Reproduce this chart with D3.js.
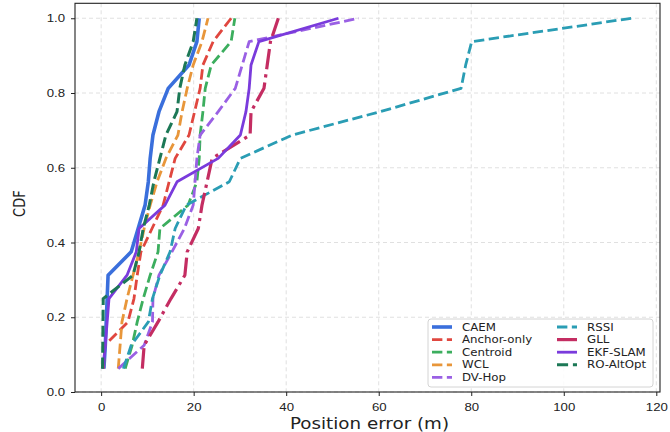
<!DOCTYPE html>
<html>
<head>
<meta charset="utf-8">
<script src="https://cdn.jsdelivr.net/npm/d3@7"></script>
<style>
  html, body { margin: 0; padding: 0; background: #fff; }
  svg { display: block; font-family: "DejaVu Sans", sans-serif; }
</style>
</head>
<body>
<svg id="chart" width="670" height="432"></svg>
<script>
// Empirical CDF of position error for each localisation method (16 trials each)
const methods = ["CAEM", "Anchor-only", "Centroid", "WCL", "DV-Hop", "RSSI", "GLL", "EKF-SLAM", "RO-AltOpt"];

const caem       = [0.6, 0.9, 1.1, 1.3, 1.5, 6.5, 8.0, 9.5, 10.2, 10.6, 11.2, 12.5, 14.5, 19.0, 20.7, 21.2];
const anchorOnly = [0.5, 0.8, 5.8, 7.1, 7.8, 8.6, 11.0, 13.4, 14.7, 16.0, 19.0, 20.2, 21.4, 22.0, 24.2, 28.1];
const centroid   = [5.2, 6.7, 7.8, 9.1, 10.6, 12.3, 12.7, 18.8, 20.7, 21.2, 21.4, 22.0, 22.5, 23.8, 28.1, 28.9];
const wcl        = [3.7, 4.1, 4.5, 5.6, 6.9, 8.2, 9.3, 10.6, 12.1, 14.0, 16.6, 17.5, 18.6, 19.9, 21.8, 23.1];
const dvHop      = [3.7, 9.3, 11.1, 11.2, 12.5, 15.3, 18.0, 19.9, 20.3, 20.7, 21.4, 25.3, 29.0, 30.5, 32.0, 55.7];
const rssi       = [4.8, 6.5, 10.2, 11.1, 12.7, 14.9, 16.0, 18.4, 27.7, 30.1, 41.3, 60.3, 77.8, 78.8, 80.1, 114.7];
const gll        = [8.9, 9.3, 12.3, 15.1, 18.1, 18.6, 21.0, 21.8, 22.9, 24.0, 32.2, 32.4, 35.2, 35.9, 36.6, 38.3];
const ekfSlam    = [0.4, 0.9, 1.3, 1.7, 5.6, 7.6, 8.2, 13.8, 16.4, 25.3, 30.1, 31.3, 32.0, 32.4, 34.1, 51.3];
const roAltOpt   = [0.3, 0.35, 0.4, 0.45, 6.9, 8.2, 9.1, 10.4, 11.4, 12.7, 14.0, 16.4, 17.0, 18.1, 19.9, 20.7];

const xTicks = [0, 20, 40, 60, 80, 100, 120];
const yTicks = [0.0, 0.2, 0.4, 0.6, 0.8, 1.0];

const seriesValues = [caem, anchorOnly, centroid, wcl, dvHop, rssi, gll, ekfSlam, roAltOpt];
const colors = ["#3a6fdc", "#e0473f", "#3cae5e", "#e8963a", "#9a60e4", "#2a9db4", "#c42d62", "#7a3bdc", "#1c7856"];
const styles = ["solid", "dash", "dash", "dash", "dash", "dash", "dashdot", "solid", "dash"];
const widths = [3.6, 2.8, 2.8, 2.8, 2.8, 2.8, 3.2, 2.8, 3.0];

const dashFor = (s, w) => s === "dash" ? `${3.7 * w},${1.6 * w}`
  : s === "dashdot" ? `${6.4 * w},${1.6 * w},${1.0 * w},${1.6 * w}` : null;

const svg = d3.select("#chart");
const X0 = 75, X1 = 660, Y0 = 392, Y1 = 3.3;
const x = d3.scaleLinear().domain([-5.65, 120.8]).range([X0, X1]);
const y = d3.scaleLinear().domain([0, 1.04]).range([Y0, Y1]);
const SX = 1.18; // glyphs are drawn slightly wide

// grid
const grid = svg.append("g");
grid.selectAll("line.gx").data(xTicks).join("line")
  .attr("x1", d => x(d)).attr("x2", d => x(d)).attr("y1", Y1).attr("y2", Y0)
  .attr("stroke", "#dcdcdc").attr("stroke-width", 0.9).attr("stroke-dasharray", "4,3");
grid.selectAll("line.gy").data(yTicks).join("line")
  .attr("x1", X0).attr("x2", X1).attr("y1", d => y(d)).attr("y2", d => y(d))
  .attr("stroke", "#dcdcdc").attr("stroke-width", 0.9).attr("stroke-dasharray", "4,3");

// CDF curves
const line = d3.line().x(d => x(d[0])).y(d => y(d[1]));
svg.append("clipPath").attr("id", "plotClip").append("rect")
  .attr("x", X0).attr("y", Y1).attr("width", X1 - X0).attr("height", Y0 - Y1);
const plot = svg.append("g").attr("clip-path", "url(#plotClip)");
seriesValues.forEach((vals, i) => {
  const n = vals.length;
  const pts = vals.map((v, k) => [v, (k + 1) / n]);
  plot.append("path").datum(pts)
    .attr("d", line)
    .attr("fill", "none")
    .attr("stroke", colors[i])
    .attr("stroke-width", widths[i])
    .attr("stroke-linejoin", "round")
    .attr("stroke-dasharray", dashFor(styles[i], widths[i]));
});

// axes
const xAxis = svg.append("g").attr("transform", `translate(0,${Y0})`)
  .call(d3.axisBottom(x).tickValues(xTicks).tickFormat(d3.format("d")).tickSize(4).tickSizeOuter(0));
const yAxis = svg.append("g").attr("transform", `translate(${X0},0)`)
  .call(d3.axisLeft(y).tickValues(yTicks).tickFormat(d3.format(".1f")).tickSize(4).tickSizeOuter(0));
[xAxis, yAxis].forEach(a => {
  a.select(".domain").remove();
  a.selectAll(".tick line").attr("stroke", "#222").attr("stroke-width", 1);
  a.selectAll(".tick text").attr("fill", "#222").attr("font-size", 11.2);
});
xAxis.selectAll(".tick text").attr("y", 11).attr("transform", `scale(${SX},1)`);
yAxis.selectAll(".tick text").attr("x", -10 / SX).attr("transform", `scale(${SX},1)`);

// frame
svg.append("rect").attr("x", X0).attr("y", Y1).attr("width", X1 - X0).attr("height", Y0 - Y1)
  .attr("fill", "none").attr("stroke", "#222").attr("stroke-width", 1.1);

// axis titles
svg.append("text")
  .attr("transform", `translate(${(X0 + X1) / 2 + 2},429) scale(${SX},1)`)
  .attr("text-anchor", "middle").attr("font-size", 15.5).attr("fill", "#222")
  .text("Position error (m)");
svg.append("text")
  .attr("transform", `translate(25,${(Y0 + Y1) / 2 + 6}) rotate(-90) scale(1,${SX})`)
  .attr("text-anchor", "middle").attr("font-size", 13).attr("fill", "#222")
  .text("CDF");

// legend
const lg = svg.append("g");
lg.append("rect").attr("x", 428).attr("y", 319).attr("width", 225).attr("height", 68)
  .attr("rx", 3).attr("fill", "#fff").attr("fill-opacity", 0.85)
  .attr("stroke", "#d4d4d4").attr("stroke-width", 1);
methods.forEach((name, i) => {
  const col = i < 5 ? 0 : 1, row = i < 5 ? i : i - 5;
  const hx = col === 0 ? 432 : 557;
  const cy = 327 + row * 12.6;
  lg.append("line").attr("x1", hx).attr("x2", hx + 20).attr("y1", cy).attr("y2", cy)
    .attr("stroke", colors[i]).attr("stroke-width", widths[i])
    .attr("stroke-dasharray", dashFor(styles[i], widths[i]));
  lg.append("text")
    .attr("transform", `translate(${hx + 30},${cy + 3.6}) scale(${SX},1)`)
    .attr("font-size", 10).attr("fill", "#222").text(name);
});
</script>
</body>
</html>
